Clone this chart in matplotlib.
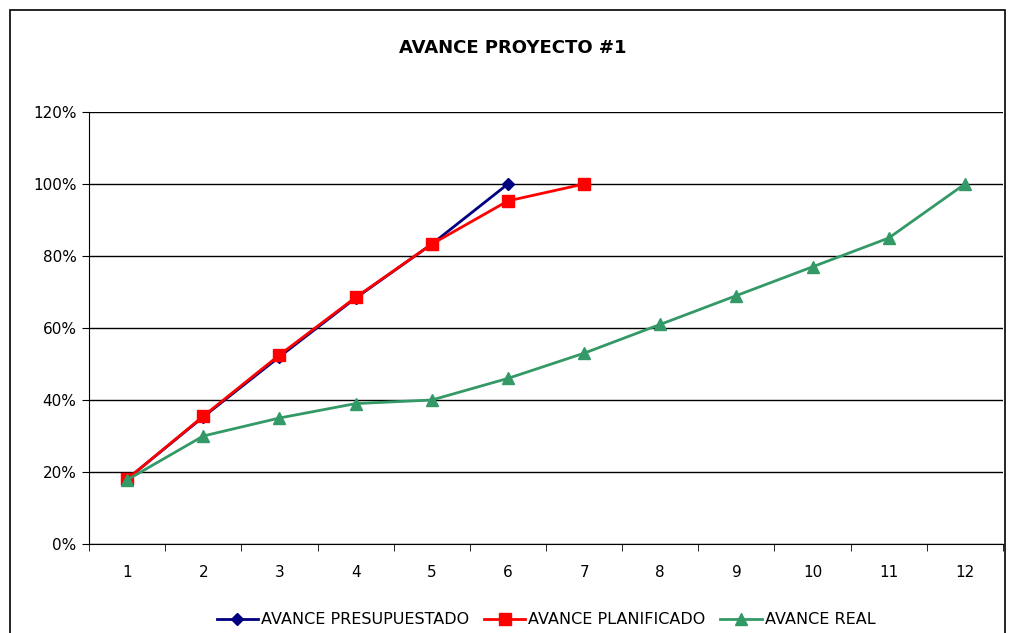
import matplotlib
matplotlib.use("Agg")
import matplotlib.pyplot as plt
from matplotlib.patches import Rectangle
from matplotlib.ticker import FuncFormatter, FixedLocator

# Données
periodos = [1, 2, 3, 4, 5, 6, 7, 8, 9, 10, 11, 12]
presupuestado = [18, 35.3, 52, 68.3, 83.3, 100]
planificado = [18, 35.5, 52.5, 68.5, 83.3, 95.3, 100]
real = [17.8, 30, 35, 39, 40, 46, 53, 61, 69, 77, 85, 100]
y_ticks = [0, 20, 40, 60, 80, 100, 120]

plt.rcParams['font.family'] = ['DejaVu Sans']

fig = plt.figure(figsize=(10.09, 6.33), dpi=100)
W, H = 1009, 633
ax = fig.add_axes([89 / W, 1 - 544 / H, (1003 - 89) / W, (544 - 112) / H])

# Cadre extérieur du graphique
fig.patches.append(Rectangle((10 / W, -0.05), (1005 - 10) / W, 1.05 - 10 / H,
                             transform=fig.transFigure, fill=False,
                             edgecolor='black', linewidth=1.2))

ax.plot(periodos[:len(presupuestado)], presupuestado, color='#000080', marker='D',
        markersize=6, linewidth=2, label='AVANCE PRESUPUESTADO', zorder=3)
ax.plot(periodos[:len(planificado)], planificado, color='#FF0000', marker='s',
        markersize=8, linewidth=2, label='AVANCE PLANIFICADO', zorder=4)
ax.plot(periodos, real, color='#339966', marker='^', markersize=8, linewidth=2,
        label='AVANCE REAL', zorder=5)

ax.set_xlim(0.5, 12.5)
ax.set_ylim(0, 120)
ax.set_yticks(y_ticks)
ax.yaxis.set_major_formatter(FuncFormatter(lambda v, p: f"{int(v)}%"))
ax.grid(axis='y', color='black', linewidth=1)
ax.set_axisbelow(True)

# Axe des catégories : étiquettes au centre, graduations entre catégories
ax.set_xticks(periodos)
ax.set_xticklabels([str(p) for p in periodos])
ax.xaxis.set_minor_locator(FixedLocator([p + 0.5 for p in range(0, 13)]))
ax.tick_params(axis='x', which='major', length=0, pad=15, labelsize=11)
ax.tick_params(axis='x', which='minor', length=5, direction='out')
ax.tick_params(axis='y', length=5, labelsize=11, pad=4)

ax.spines['top'].set_visible(False)
ax.spines['right'].set_visible(False)

# Titre centré sur la figure
fig.text(513 / W, 1 - 48 / H, 'AVANCE PROYECTO #1', fontsize=13, fontweight='bold',
         ha='center', va='center')

ax.legend(loc='upper center', bbox_to_anchor=(0.5, -0.125), ncol=3, frameon=False,
          fontsize=11.5, handlelength=2.6, handletextpad=0.2, columnspacing=0.9)

fig.savefig('out.png', dpi=100)
